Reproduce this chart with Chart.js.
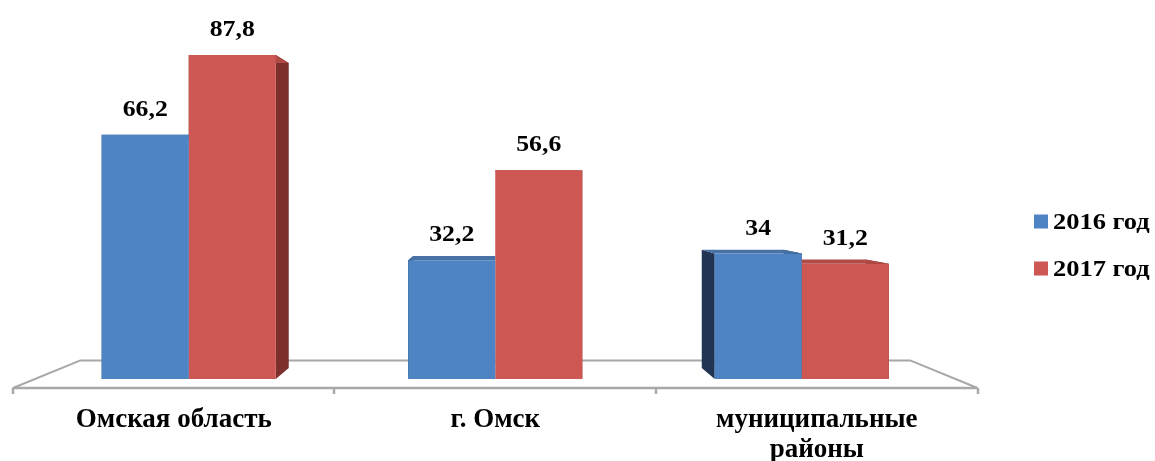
<!DOCTYPE html>
<html lang="ru">
<head>
<meta charset="utf-8">
<title>Омская область, г. Омск, муниципальные районы: 2016 и 2017 год</title>
<script src="https://cdn.jsdelivr.net/npm/chart.js@4.4.1/dist/chart.umd.min.js"></script>
<style>
  html, body { margin: 0; padding: 0; background: #ffffff; }
  #wrap { position: relative; width: 1155px; height: 461px; }
</style>
</head>
<body>
<div id="wrap"><canvas id="chart"></canvas></div>
<script>
// Categories (the last one wraps onto two lines)
const CATEGORIES = ['Омская область', 'г. Омск', ['муниципальные', 'районы']];
// Series
const SERIES_LABELS = ['2016 год', '2017 год'];
const VALUES_2016 = [66.2, 32.2, 34];
const VALUES_2017 = [87.8, 56.6, 31.2];
// Value axis range
const Y_MIN = 0;
const Y_MAX = 100;

// Face colours of the 3D bars: front, side, top
const FRONT = ['#4f84c4', '#cc5753'];
const SIDE  = ['#1f3553', '#7d2f2c'];
const TOP   = ['#4872a6', '#b04a46'];

const SERIF = '"Liberation Serif", "Times New Roman", serif';

// Perspective set-up: everything recedes toward one vanishing point
const BAR_DEPTH = 0.059;    // how far the back face of a bar is pulled toward the vanishing point
const FLOOR_DEPTH = 0.14;   // depth of the floor plate
const FLOOR_DROP = 9;       // floor front edge sits this far below the bar baseline
const SPREAD = 1.049;       // front edge of the floor is wider than the bar plane
const VP_VALUE = 51;        // vanishing point height, in value units

const fmt = v => String(v).replace('.', ',');

function vanishingPoint(chart) {
  const a = chart.chartArea;
  return { x: (a.left + a.right) / 2, y: chart.scales.y.getPixelForValue(VP_VALUE) };
}
function toVP(vp, p, d) {
  return [p[0] + (vp.x - p[0]) * d, p[1] + (vp.y - p[1]) * d];
}
function poly(ctx, pts, fill) {
  ctx.beginPath();
  ctx.moveTo(pts[0][0], pts[0][1]);
  for (let i = 1; i < pts.length; i++) ctx.lineTo(pts[i][0], pts[i][1]);
  ctx.closePath();
  ctx.fillStyle = fill;
  ctx.fill();
}

const stage3d = {
  id: 'stage3d',
  beforeDatasetsDraw(chart) {
    const ctx = chart.ctx;
    const xf = chart.scales.xf, y = chart.scales.y;
    const vp = vanishingPoint(chart);
    const n = CATEGORIES.length;

    // floor plate
    const fy = y.getPixelForValue(0) + FLOOR_DROP;
    const fl = [xf.getPixelForValue(-0.5), fy];
    const fr = [xf.getPixelForValue(n - 0.5), fy];
    const bl = toVP(vp, fl, FLOOR_DEPTH);
    const br = toVP(vp, fr, FLOOR_DEPTH);
    ctx.save();
    ctx.strokeStyle = '#a8a8a8';
    ctx.lineJoin = 'round';
    ctx.lineWidth = 2;
    ctx.beginPath();
    ctx.moveTo(fl[0], fl[1]); ctx.lineTo(bl[0], bl[1]); ctx.lineTo(br[0], br[1]); ctx.lineTo(fr[0], fr[1]);
    ctx.stroke();
    ctx.lineWidth = 2.5;
    ctx.beginPath();
    ctx.moveTo(fl[0], fy); ctx.lineTo(fr[0], fy);
    for (let i = 0; i <= n; i++) {
      const tx = Math.round(xf.getPixelForValue(i - 0.5));
      ctx.moveTo(tx, fy); ctx.lineTo(tx, fy + 6);
    }
    ctx.stroke();

    // sides and tops of each bar, painted before the front faces
    chart.data.datasets.forEach((ds, di) => {
      const meta = chart.getDatasetMeta(di);
      meta.data.forEach(el => {
        const p = el.getProps(['x', 'y', 'base', 'width'], true);
        const l = p.x - p.width / 2, r = p.x + p.width / 2;
        const TL = [l, p.y], TR = [r, p.y], BR = [r, p.base], BL = [l, p.base];
        const bTL = toVP(vp, TL, BAR_DEPTH), bTR = toVP(vp, TR, BAR_DEPTH);
        const bBR = toVP(vp, BR, BAR_DEPTH), bBL = toVP(vp, BL, BAR_DEPTH);
        poly(ctx, [TR, bTR, bBR, BR], SIDE[di]);
        poly(ctx, [TL, bTL, bBL, BL], SIDE[di]);
        poly(ctx, [TL, TR, bTR, bTL], TOP[di]);
      });
    });
    ctx.restore();
  },
  afterDatasetsDraw(chart) {
    const ctx = chart.ctx;
    ctx.save();
    ctx.fillStyle = '#000000';

    // value labels above the bars
    ctx.font = 'bold 23px ' + SERIF;
    ctx.textAlign = 'center';
    ctx.textBaseline = 'alphabetic';
    chart.data.datasets.forEach((ds, di) => {
      chart.getDatasetMeta(di).data.forEach((el, i) => {
        const p = el.getProps(['x', 'y'], true);
        ctx.save();
        ctx.translate(p.x, p.y - 19);
        ctx.scale(1.12, 1);
        ctx.fillText(fmt(ds.data[i]), 0, 0);
        ctx.restore();
      });
    });

    // legend on the right
    const a = chart.chartArea;
    const lx = a.right + 79;
    ctx.font = 'bold 23px ' + SERIF;
    ctx.textAlign = 'left';
    ctx.textBaseline = 'alphabetic';
    chart.data.datasets.forEach((ds, di) => {
      const cy = 221.5 + di * 47;
      ctx.fillStyle = ds.backgroundColor;
      ctx.fillRect(lx, cy - 7, 14, 14);
      ctx.fillStyle = '#000000';
      ctx.save();
      ctx.translate(lx + 19, cy + 7.5);
      ctx.scale(1.15, 1);
      ctx.fillText(ds.label, 0, 0);
      ctx.restore();
    });
    ctx.restore();
  }
};

const nCat = CATEGORIES.length;
const mid = (nCat - 1) / 2;
const half = nCat / 2 / SPREAD;

new Chart(document.getElementById('chart'), {
  type: 'bar',
  data: {
    labels: CATEGORIES.map(c => Array.isArray(c) ? c.join(' ') : c),
    datasets: [
      { label: SERIES_LABELS[0], data: VALUES_2016, backgroundColor: FRONT[0] },
      { label: SERIES_LABELS[1], data: VALUES_2017, backgroundColor: FRONT[1] }
    ]
  },
  options: {
    responsive: true,
    maintainAspectRatio: false,
    animation: false,
    devicePixelRatio: 1,
    layout: { padding: { top: 10, left: 35.5, right: 200, bottom: 0 } },
    datasets: {
      bar: { categoryPercentage: 0.568, barPercentage: 1.0, borderWidth: 0 }
    },
    plugins: {
      legend: { display: false },
      tooltip: { enabled: false }
    },
    scales: {
      x: { type: 'category', display: false },
      // front edge of the floor: carries the category names
      xf: {
        type: 'linear',
        position: 'bottom',
        offset: false,
        bounds: 'data',
        min: mid - half,
        max: mid + half,
        afterBuildTicks: ax => { ax.ticks = CATEGORIES.map((c, i) => ({ value: i })); },
        afterFit: ax => { ax.height = 82; },
        grid: { display: false, drawTicks: false, offset: false },
        border: { display: false },
        ticks: {
          autoSkip: false,
          maxRotation: 0,
          minRotation: 0,
          padding: 26,
          color: '#000000',
          font: { family: SERIF, size: 27, weight: 'bold', lineHeight: 30 / 27 },
          callback: v => CATEGORIES[v]
        }
      },
      y: { display: false, min: Y_MIN, max: Y_MAX }
    }
  },
  plugins: [stage3d]
});
</script>
</body>
</html>
